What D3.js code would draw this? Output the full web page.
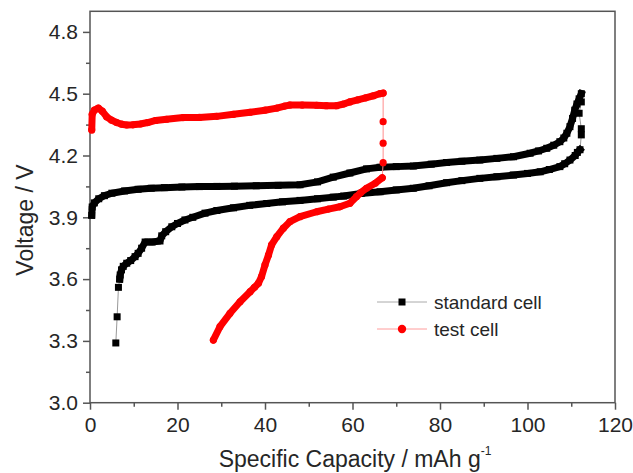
<!DOCTYPE html>
<html>
<head>
<meta charset="utf-8">
<script src="https://cdn.jsdelivr.net/npm/d3@7"></script>
<style>
  body { margin: 0; background: #fff; }
  svg { display: block; font-family: "Liberation Sans", Arial, sans-serif; }
</style>
</head>
<body>
<script>
// tick values
const xMajor = [0, 20, 40, 60, 80, 100, 120];
const xMinor = [10, 30, 50, 70, 90, 110];
const yMajor = [3.0, 3.3, 3.6, 3.9, 4.2, 4.5, 4.8];
const yMinor = [3.15, 3.45, 3.75, 4.05, 4.35, 4.65];

// standard cell: charge, turn-over points, discharge, tail  [capacity, voltage]
const stdCharge = [
  [0.4, 3.91], [0.5, 3.95], [1.0, 3.97], [2.0, 3.99], [3.3, 4.005], [5, 4.017], [7.9, 4.028],
  [11, 4.036], [14, 4.041], [17, 4.044], [21, 4.047], [25, 4.049], [29, 4.05], [33, 4.051],
  [38, 4.053], [43, 4.055], [48, 4.058], [52, 4.072], [55.6, 4.095], [59.4, 4.115], [63.2, 4.135],
  [66.3, 4.143], [70, 4.146], [73.9, 4.149], [78, 4.158], [81.5, 4.166], [85, 4.172], [89.1, 4.178],
  [93, 4.186], [96.8, 4.194], [100.6, 4.211], [102.5, 4.222], [104.4, 4.235], [106, 4.25],
  [107.4, 4.267], [108.3, 4.285], [109, 4.308], [109.7, 4.34], [110.3, 4.38], [110.8, 4.42],
  [111.3, 4.45], [111.8, 4.475], [112.3, 4.50]
];
const stdTurn = [[112.3, 4.46], [111.8, 4.405], [112.3, 4.33], [112.3, 4.30]];
const stdDischarge = [
  [112.0, 4.228], [111.4, 4.215], [110.9, 4.20], [109.7, 4.178], [108.5, 4.16], [107.4, 4.146],
  [105, 4.132], [102.9, 4.121], [100, 4.113], [96.8, 4.105], [93, 4.097], [89.1, 4.089],
  [85, 4.078], [81.5, 4.068], [77.5, 4.053], [73.9, 4.041], [70, 4.033], [66.3, 4.024],
  [62, 4.016], [58, 4.003], [55.6, 3.998], [52, 3.99], [48, 3.982], [44, 3.975], [40.4, 3.967],
  [36.5, 3.958], [32.8, 3.946], [29, 3.933], [26.3, 3.92], [23.5, 3.9], [21.7, 3.887], [20, 3.87],
  [18.7, 3.854], [17.3, 3.83], [16.4, 3.81], [16.0, 3.785], [14.2, 3.78], [12.6, 3.78],
  [11.8, 3.75], [11.0, 3.725], [10.3, 3.709], [9.3, 3.69], [8.4, 3.677], [7.6, 3.662],
  [7.2, 3.645], [6.9, 3.62], [6.8, 3.60]
];
const stdTail = [[6.5, 3.56], [6.2, 3.417], [5.9, 3.29]];

// test cell
const testCharge = [
  [0.4, 4.324], [0.5, 4.40], [1.0, 4.42], [1.9, 4.43], [2.8, 4.415], [3.8, 4.388], [4.9, 4.372],
  [6.1, 4.36], [7.2, 4.352], [8.4, 4.348], [9.8, 4.349], [11.5, 4.353], [13.2, 4.36], [15, 4.37],
  [17.5, 4.376], [21.3, 4.384], [25, 4.385], [29, 4.39], [32.8, 4.4], [36.6, 4.41], [40, 4.42],
  [42.7, 4.43], [44.5, 4.44], [45.7, 4.445], [48.5, 4.445], [51.8, 4.444], [54, 4.442],
  [56.4, 4.442], [58, 4.45], [59.4, 4.46], [61.2, 4.47], [63, 4.48], [64.8, 4.49], [66.3, 4.5],
  [67, 4.503]
];
const testTurn = [[67.0, 4.364], [67.0, 4.26], [67.0, 4.165]];
const testDischarge = [
  [66.8, 4.092], [65.2, 4.065], [63.2, 4.041], [61.9, 4.02], [60.9, 4.0], [59.4, 3.968],
  [57.1, 3.951], [54.5, 3.94], [51.8, 3.927], [48, 3.903], [45.7, 3.879], [44.2, 3.847],
  [42.7, 3.806], [41.5, 3.766], [40.8, 3.717], [40, 3.669], [39.2, 3.612], [38.5, 3.58],
  [37.6, 3.56], [36.6, 3.539], [34.3, 3.49], [32, 3.434], [29.7, 3.369], [28.2, 3.304]
];

const legendLabels = ['standard cell', 'test cell'];

const width = 633, height = 473;
const svg = d3.select('body').append('svg')
  .attr('width', width)
  .attr('height', height);

const x = d3.scaleLinear().domain([0, 120]).range([90, 615]);
const y = d3.scaleLinear().domain([3.0, 4.9]).range([402.7, 11.3]);

const axisColor = '#555';
const textColor = '#262626';

// axes
svg.append('g').attr('transform', `translate(0,${y(3.0)})`)
  .call(d3.axisBottom(x).tickValues(xMajor).tickSize(7).tickPadding(7).tickFormat(d3.format('d')));
svg.append('g').attr('transform', `translate(0,${y(3.0)})`)
  .call(d3.axisBottom(x).tickValues(xMinor).tickSize(4).tickFormat(''));
svg.append('g').attr('transform', `translate(${x(0)},0)`)
  .call(d3.axisLeft(y).tickValues(yMajor).tickSize(7).tickPadding(5).tickFormat(d3.format('.1f')));
svg.append('g').attr('transform', `translate(${x(0)},0)`)
  .call(d3.axisLeft(y).tickValues(yMinor).tickSize(4).tickFormat(''));

svg.selectAll('.domain').remove();
svg.selectAll('.tick line').attr('stroke', axisColor).attr('stroke-width', 1.5);
svg.selectAll('.tick text')
  .attr('fill', textColor)
  .style('font-size', '21px')
  .style('font-family', '"Liberation Sans", Arial, sans-serif');

// frame
svg.append('rect')
  .attr('x', x(0))
  .attr('y', y(4.9))
  .attr('width', x(120) - x(0))
  .attr('height', y(3.0) - y(4.9))
  .attr('fill', 'none')
  .attr('stroke', axisColor)
  .attr('stroke-width', 1.5);

const line = d3.line().x(d => x(d[0])).y(d => y(d[1]));

function drawSeries(charge, turn, discharge, tail, color, thinColor, shape) {
  const all = charge.concat(turn, discharge, tail);
  const g = svg.append('g');
  // thin connecting line
  g.append('path')
    .attr('d', line(all))
    .attr('fill', 'none')
    .attr('stroke', thinColor)
    .attr('stroke-width', 1);
  // dense runs of markers look like a thick band
  [charge, discharge].forEach(run => {
    g.append('path')
      .attr('d', line(run))
      .attr('fill', 'none')
      .attr('stroke', color)
      .attr('stroke-width', 7)
      .attr('stroke-linejoin', 'round')
      .attr('stroke-linecap', shape === 'square' ? 'square' : 'round');
  });
  if (shape === 'square') {
    g.selectAll('rect.m').data(all).join('rect')
      .attr('class', 'm')
      .attr('x', d => x(d[0]) - 3.5)
      .attr('y', d => y(d[1]) - 3.5)
      .attr('width', 7)
      .attr('height', 7)
      .attr('fill', color);
  } else {
    g.selectAll('circle.m').data(all).join('circle')
      .attr('class', 'm')
      .attr('cx', d => x(d[0]))
      .attr('cy', d => y(d[1]))
      .attr('r', 3.6)
      .attr('fill', color);
  }
}

drawSeries(stdCharge, stdTurn, stdDischarge, stdTail, '#000', '#999', 'square');
drawSeries(testCharge, testTurn, testDischarge, [], '#f00', '#ff8c8c', 'circle');

// legend
const legend = svg.append('g').attr('transform', 'translate(377,302)');
const legendStyle = [
  { color: '#000', thin: '#aaa', shape: 'square' },
  { color: '#f00', thin: '#ff9c9c', shape: 'circle' }
];
legendLabels.forEach((label, i) => {
  const row = legend.append('g').attr('transform', `translate(0,${i * 27})`);
  row.append('line')
    .attr('x1', 0).attr('x2', 50)
    .attr('stroke', legendStyle[i].thin)
    .attr('stroke-width', 1);
  if (legendStyle[i].shape === 'square') {
    row.append('rect').attr('x', 21.5).attr('y', -3.5).attr('width', 7).attr('height', 7)
      .attr('fill', legendStyle[i].color);
  } else {
    row.append('circle').attr('cx', 25).attr('cy', 0).attr('r', 4.2)
      .attr('fill', legendStyle[i].color);
  }
  row.append('text')
    .attr('x', 57)
    .attr('dy', '0.35em')
    .attr('fill', textColor)
    .style('font-size', '19px')
    .text(label);
});

// axis titles
svg.append('text')
  .attr('transform', 'translate(33,220) rotate(-90)')
  .attr('text-anchor', 'middle')
  .attr('fill', textColor)
  .style('font-size', '23px')
  .text('Voltage / V');

const xt = svg.append('text')
  .attr('x', 355)
  .attr('y', 467)
  .attr('text-anchor', 'middle')
  .attr('fill', textColor)
  .style('font-size', '23px');
xt.append('tspan').text('Specific Capacity / mAh g');
xt.append('tspan')
  .attr('dy', -12)
  .style('font-size', '12px')
  .text('-1');
</script>
</body>
</html>
